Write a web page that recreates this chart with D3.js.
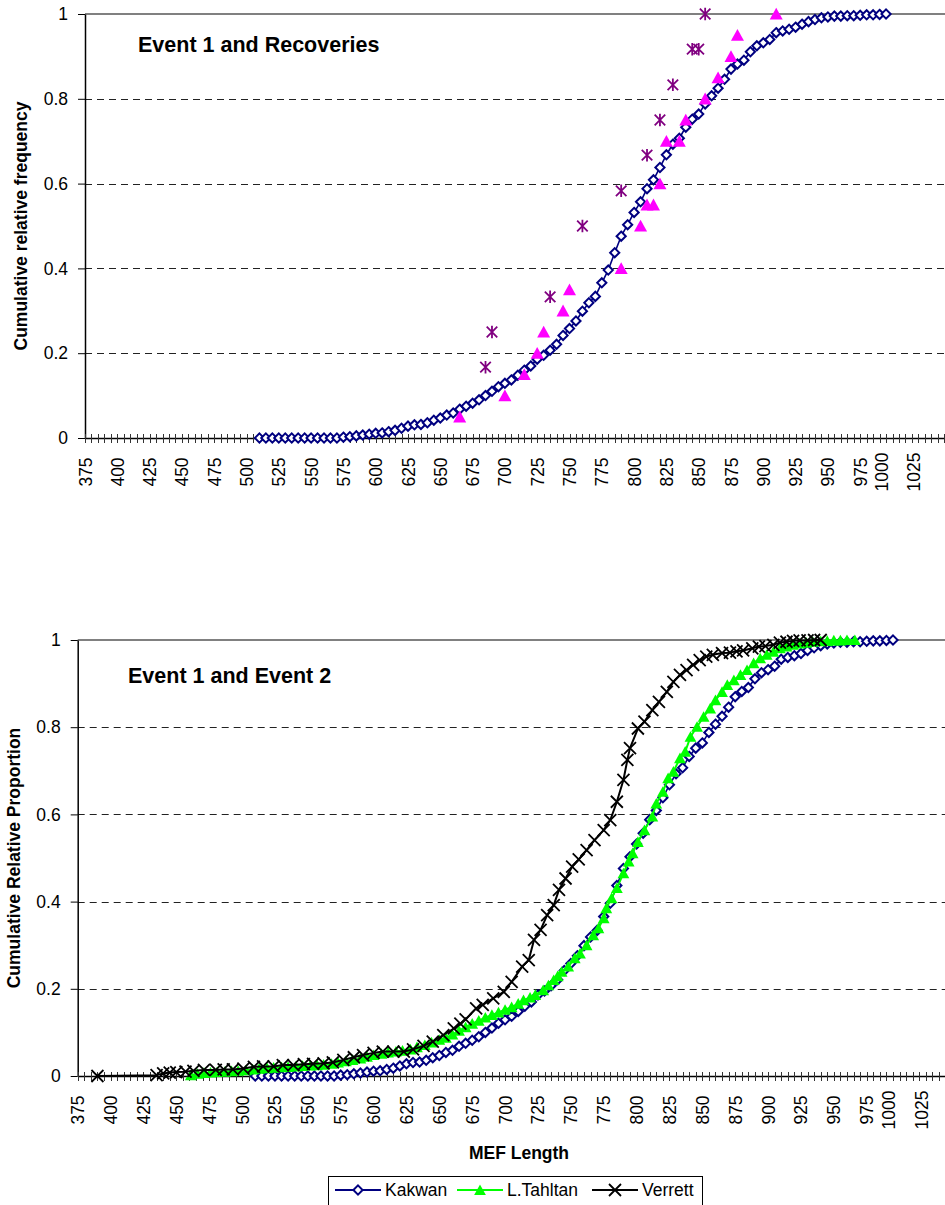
<!DOCTYPE html>
<html>
<head>
<meta charset="utf-8">
<script src="https://cdn.jsdelivr.net/npm/d3@7"></script>
<style>
  body { margin: 0; background: #fff; }
  svg { display: block; }
  text { font-family: "Liberation Sans", Arial, sans-serif; fill: #000; }
</style>
</head>
<body>
<svg id="chart" width="945" height="1205"></svg>
<script>
// ---- data ----
const xTickLabels = [375,400,425,450,475,500,525,550,575,600,625,650,675,700,725,750,775,800,825,850,875,900,925,950,975,1000,1025];
const yTickLabels = [0, 0.2, 0.4, 0.6, 0.8, 1];

// Kakwan (event 1), MEF length vs cumulative proportion
const kakwanLen = [510,515,520,525,530,535,540,545,550,555,560,565,570,575,580,585,590,595,600,605,
  610,615,620,625,630,635,640,645,650,655,660,665,670,675,680,685,690,695,700,705,
  710,715,720,725,730,735,740,745,750,755,760,765,770,775,780,785,790,795,800,805,
  810,815,820,825,830,835,840,845,850,855,860,865,870,875,880,885,890,895,900,905,
  910,915,920,925,930,935,940,945,950,955,960,965,970,975,980,985,990,995];
const kakwanCum = [0,0,0,0,0,0,0,0,0,0,0,0,0,0.002,0.003,0.005,0.007,0.009,0.011,0.012,
  0.015,0.018,0.023,0.028,0.031,0.032,0.036,0.042,0.047,0.054,0.059,0.068,0.075,0.082,0.090,0.100,0.110,0.121,0.129,0.137,
  0.148,0.160,0.170,0.186,0.195,0.207,0.221,0.242,0.258,0.276,0.299,0.319,0.334,0.366,0.396,0.437,0.476,0.503,0.532,0.557,
  0.588,0.609,0.638,0.668,0.693,0.707,0.733,0.752,0.764,0.788,0.807,0.825,0.846,0.870,0.882,0.891,0.911,0.925,0.932,0.940,
  0.956,0.960,0.964,0.969,0.976,0.982,0.987,0.991,0.993,0.995,0.995,0.996,0.996,0.997,0.998,0.998,0.999,1.0];

// recoveries (top panel, markers only)
const recTriLen = [665,700,715,725,730,745,750,790,805,810,815,820,825,835,840,855,865,875,880,910];
const recTriCum = [0.05,0.10,0.15,0.20,0.25,0.30,0.35,0.40,0.50,0.55,0.55,0.60,0.70,0.70,0.75,0.80,0.85,0.90,0.95,1.0];
const recStarLen = [685,690,735,760,790,810,820,830,845,850,855];
const recStarCum = [0.167,0.25,0.333,0.5,0.583,0.667,0.75,0.833,0.917,0.917,1.0];

// L.Tahltan (event 2)
const tahltanLen = [461,466,471,476,481,487,492,497,503,508,513,519,524,530,535,541,546,552,557,562,
  568,573,579,584,590,595,600,606,611,617,622,628,633,639,644,650,655,660,665,670,
  675,680,685,690,695,700,705,710,714,719,723,729,733,737,740,743,748,753,757,762,
  767,771,775,777,781,785,790,794,797,801,806,812,815,820,824,828,833,837,841,846,
  851,856,860,865,869,874,879,884,889,894,899,904,909,914,919,924,929,934,940,945,
  950,955,960,966];
const tahltanCum = [0.002,0.005,0.007,0.008,0.009,0.010,0.011,0.012,0.013,0.015,0.017,0.018,0.019,0.020,0.021,0.022,0.023,0.024,0.025,0.026,
  0.028,0.031,0.034,0.037,0.040,0.044,0.048,0.051,0.054,0.056,0.058,0.061,0.066,0.071,0.077,0.083,0.088,0.095,0.104,0.112,
  0.120,0.127,0.134,0.140,0.146,0.152,0.158,0.166,0.174,0.180,0.186,0.197,0.208,0.220,0.229,0.239,0.251,0.270,0.281,0.300,
  0.323,0.339,0.362,0.385,0.408,0.431,0.465,0.492,0.511,0.537,0.564,0.595,0.625,0.652,0.683,0.698,0.729,0.744,0.778,0.801,
  0.824,0.843,0.862,0.881,0.897,0.908,0.920,0.931,0.947,0.958,0.966,0.973,0.981,0.985,0.989,0.992,0.994,0.996,0.997,0.998,
  0.999,0.999,1.0,1.0];

// Verrett (event 2)
const verrettLen = [390,435,440,445,450,457,463,471,480,486,493,501,509,516,524,531,539,547,554,562,
  569,577,585,592,600,607,615,623,630,638,645,653,661,666,670,678,683,691,699,705,
  713,718,722,727,732,737,741,746,751,756,762,768,775,780,785,790,793,795,801,806,
  812,817,823,828,833,838,843,848,853,858,865,871,876,881,888,893,898,904,909,914,
  919,924,930,935,940];
const verrettCum = [0,0.002,0.006,0.008,0.009,0.010,0.012,0.014,0.014,0.015,0.015,0.017,0.021,0.022,0.022,0.025,0.025,0.027,0.028,0.029,
  0.031,0.037,0.043,0.048,0.053,0.056,0.056,0.056,0.061,0.069,0.079,0.094,0.109,0.120,0.130,0.155,0.163,0.178,0.193,0.216,
  0.251,0.266,0.312,0.335,0.369,0.392,0.427,0.453,0.480,0.497,0.518,0.541,0.564,0.587,0.629,0.679,0.725,0.752,0.797,0.813,
  0.839,0.858,0.881,0.904,0.920,0.931,0.943,0.954,0.962,0.966,0.970,0.971,0.974,0.976,0.981,0.985,0.986,0.989,0.994,0.996,
  0.998,0.999,0.999,1.0,1.0];

// ---- marker shapes ----
const NAVY = "#000080", MAGENTA = "#FF00FF", PURPLE = "#800080", GREEN = "#00FF00";
const shapes = {
  diamond: r => `M0,${-r}L${r},0L0,${r}L${-r},0Z`,
  triangle: r => `M0,${-r}L${r*1.05},${r*0.9}L${-r*1.05},${r*0.9}Z`,
  cross: r => `M${-r},${-r}L${r},${r}M${r},${-r}L${-r},${r}`,
  star: r => `M${-r*0.85},${-r*0.85}L${r*0.85},${r*0.85}M${r*0.85},${-r*0.85}L${-r*0.85},${r*0.85}M0,${-r}V${r}`
};
function markerStyle(sel, s) {
  sel.attr("d", shapes[s.shape](s.size))
    .attr("fill", s.fill || "none")
    .attr("stroke", s.stroke || "none")
    .attr("stroke-width", s.sw || 0);
}

const svg = d3.select("#chart");
const minorTicks = d3.range(375, 1041, 5);

function drawPanel(cfg) {
  const x = d3.scaleLinear().domain(cfg.xDomain).range(cfg.xRange);
  const y = d3.scaleLinear().domain([0, 1]).range([cfg.yBottom, cfg.yTop]);
  const g = svg.append("g");

  // grid lines
  g.append("g").selectAll("line").data(cfg.grid).join("line")
    .attr("x1", cfg.xRange[0]).attr("x2", 945)
    .attr("y1", d => Math.round(y(d)) + 0.5).attr("y2", d => Math.round(y(d)) + 0.5)
    .attr("stroke", "#222").attr("stroke-width", 1).attr("stroke-dasharray", "7,5");
  // plot border (top)
  g.append("line")
    .attr("x1", cfg.xRange[0]).attr("x2", 945)
    .attr("y1", y(1)).attr("y2", y(1))
    .attr("stroke", "#808080").attr("stroke-width", 2);

  // y axis
  const ya = g.append("g")
    .attr("transform", `translate(${cfg.xRange[0]},0)`)
    .call(d3.axisLeft(y).tickValues(yTickLabels).tickSize(7).tickSizeOuter(0)
      .tickPadding(10).tickFormat(d3.format("~g")))
    .attr("font-size", 17.5).attr("font-family", '"Liberation Sans", Arial, sans-serif');
  ya.select(".domain").attr("stroke", "#000").attr("stroke-width", 1.5);
  ya.selectAll(".tick line").attr("stroke", "#000");

  // x axis
  const xa = g.append("g")
    .attr("transform", `translate(0,${y(0)})`)
    .call(d3.axisBottom(x).tickValues(xTickLabels).tickSize(0).tickSizeOuter(0)
      .tickFormat(d3.format("d")))
    .attr("font-size", 17.5).attr("font-family", '"Liberation Sans", Arial, sans-serif');
  xa.select(".domain").attr("stroke", "#000").attr("stroke-width", 1.5);
  xa.selectAll(".tick text")
    .attr("y", 0).attr("dy", null)
    .attr("text-anchor", "middle").attr("dominant-baseline", "central")
    .attr("transform", d => `translate(${d >= 1000 ? -11 : 0},34) rotate(-90)`);
  g.append("g").selectAll("line").data(minorTicks.filter(d => x(d) <= 945)).join("line")
    .attr("x1", d => Math.round(x(d)) + 0.5).attr("x2", d => Math.round(x(d)) + 0.5)
    .attr("y1", y(0) - 4).attr("y2", y(0) + 5)
    .attr("stroke", "#333").attr("stroke-width", 1);

  // titles
  g.append("text").attr("x", cfg.titleX).attr("y", cfg.titleY)
    .attr("font-size", 21.5).attr("font-weight", "bold").text(cfg.title);
  g.append("text")
    .attr("transform", `translate(${cfg.yTitleX},${(y(0) + y(1)) / 2}) rotate(-90)`)
    .attr("text-anchor", "middle").attr("dominant-baseline", "central")
    .attr("font-size", 17.5).attr("font-weight", "bold").text(cfg.yTitle);

  // series
  cfg.series.forEach(s => {
    const pts = s.len.map((v, i) => [v, s.cum[i]]);
    if (s.line) {
      g.append("path").datum(pts)
        .attr("fill", "none").attr("stroke", s.line).attr("stroke-width", s.lw)
        .attr("stroke-linejoin", "round")
        .attr("d", d3.line().x(d => x(d[0])).y(d => y(d[1])));
    }
    g.append("g").selectAll("path").data(pts).join("path")
      .attr("transform", d => `translate(${x(d[0])},${y(d[1])})`)
      .call(markerStyle, s.marker);
  });
  return { x, y };
}

const kakwanMarker = { shape: "diamond", size: 4.6, fill: "#fff", stroke: NAVY, sw: 2 };
const tahltanMarker = { shape: "triangle", size: 5.6, fill: GREEN };
const verrettMarker = { shape: "cross", size: 6, stroke: "#000", sw: 1.8 };

drawPanel({
  xDomain: [375, 1040], xRange: [85, 85 + 665 * 1.292],
  yTop: 14, yBottom: 438,
  grid: [0.2, 0.4, 0.6, 0.8],
  title: "Event 1 and Recoveries", titleX: 138, titleY: 52,
  yTitle: "Cumulative relative frequency", yTitleX: 21,
  series: [
    { len: kakwanLen, cum: kakwanCum, line: NAVY, lw: 1.6, marker: kakwanMarker },
    { len: recTriLen, cum: recTriCum, marker: { shape: "triangle", size: 6.2, fill: MAGENTA } },
    { len: recStarLen, cum: recStarCum, marker: { shape: "star", size: 6.2, stroke: PURPLE, sw: 1.8 } }
  ]
});

drawPanel({
  xDomain: [375, 1035], xRange: [77.7, 77.7 + 660 * 1.315],
  yTop: 640, yBottom: 1076,
  grid: [0.2, 0.4, 0.6, 0.8, 1],
  title: "Event 1 and Event 2", titleX: 128, titleY: 683,
  yTitle: "Cumulative Relative Proportion", yTitleX: 14,
  series: [
    { len: kakwanLen, cum: kakwanCum, line: NAVY, lw: 1.6, marker: kakwanMarker },
    { len: tahltanLen, cum: tahltanCum, line: GREEN, lw: 2, marker: tahltanMarker },
    { len: verrettLen, cum: verrettCum, line: "#000", lw: 2, marker: verrettMarker }
  ]
});

// x axis title
svg.append("text").attr("x", 519).attr("y", 1159).attr("text-anchor", "middle")
  .attr("font-size", 17.5).attr("font-weight", "bold").text("MEF Length");

// legend
const legendItems = [
  { name: "Kakwan", color: NAVY, marker: kakwanMarker, x: 335 },
  { name: "L.Tahltan", color: GREEN, marker: tahltanMarker, x: 457 },
  { name: "Verrett", color: "#000", marker: verrettMarker, x: 592 }
];
const lg = svg.append("g");
lg.append("rect").attr("x", 328.5).attr("y", 1176.5).attr("width", 374).attr("height", 40)
  .attr("fill", "#fff").attr("stroke", "#000").attr("stroke-width", 1);
const li = lg.selectAll("g.item").data(legendItems).join("g").attr("class", "item")
  .attr("transform", d => `translate(${d.x},1190)`);
li.append("line").attr("x1", 0).attr("x2", 46).attr("y1", 0).attr("y2", 0)
  .attr("stroke", d => d.color).attr("stroke-width", 2);
li.append("path").attr("transform", "translate(23,0)")
  .each(function (d) { d3.select(this).call(markerStyle, d.marker); });
li.append("text").attr("x", 50).attr("y", 0).attr("dominant-baseline", "central")
  .attr("font-size", 17.5).text(d => d.name);
</script>
</body>
</html>
